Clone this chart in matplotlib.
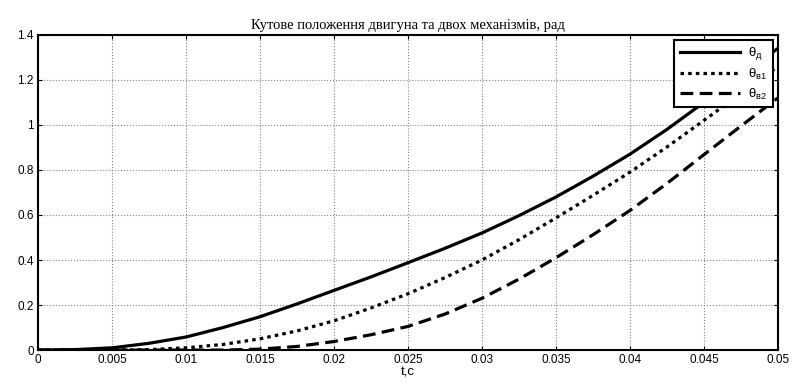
import numpy as np
import matplotlib.pyplot as plt

# time points, s
t = [0.0, 0.0025, 0.005, 0.0075, 0.01, 0.0125, 0.015, 0.0175, 0.02, 0.0225,
     0.025, 0.0275, 0.03, 0.0325, 0.035, 0.0375, 0.04, 0.0425, 0.045, 0.0475, 0.05]

# motor angle, rad
theta_d = [0.0, 0.002, 0.01, 0.03, 0.058, 0.10, 0.148, 0.205, 0.265, 0.325,
           0.388, 0.452, 0.52, 0.597, 0.68, 0.772, 0.87, 0.98, 1.10, 1.22, 1.34]

# first mechanism angle, rad
theta_v1 = [0.0, 0.0, 0.0, 0.002, 0.01, 0.025, 0.05, 0.085, 0.13, 0.187,
            0.25, 0.322, 0.40, 0.49, 0.587, 0.687, 0.79, 0.902, 1.02, 1.14, 1.26]

# second mechanism angle, rad
theta_v2 = [0.0, 0.0, 0.0, 0.0, 0.0, 0.0, 0.004, 0.016, 0.038, 0.068,
            0.105, 0.16, 0.23, 0.315, 0.41, 0.512, 0.62, 0.74, 0.868, 0.995, 1.12]

plt.rcParams['font.family'] = ['Liberation Sans', 'DejaVu Sans']

fig = plt.figure(figsize=(7.93, 3.83), dpi=100)
ax = fig.add_axes([0.048, 0.086, 0.933, 0.823])

ax.plot(t, theta_d, 'k-', linewidth=2.3, label='θ$_{\\mathregular{д}}$')
ax.plot(t, theta_v1, 'k', linestyle=(0, (1.1, 1.3)), linewidth=2.3,
        label='θ$_{\\mathregular{в1}}$')
ax.plot(t, theta_v2, 'k', linestyle=(0, (4, 2)), linewidth=2.3,
        label='θ$_{\\mathregular{в2}}$')

ax.set_xlim(0, 0.05)
ax.set_ylim(0, 1.4)
ax.set_xticks(np.arange(0, 0.0501, 0.005))
ax.set_xticklabels(['0', '0.005', '0.01', '0.015', '0.02', '0.025', '0.03',
                    '0.035', '0.04', '0.045', '0.05'])
ax.set_yticks(np.arange(0, 1.41, 0.2))
ax.set_yticklabels(['0', '0.2', '0.4', '0.6', '0.8', '1', '1.2', '1.4'])
ax.tick_params(direction='in', top=True, right=True, labelsize=8.5, length=3, pad=3)
ax.grid(True, color='gray', linestyle=':', linewidth=0.8)
for s in ax.spines.values():
    s.set_linewidth(1.5)

ax.set_title('Кутове положення двигуна та двох механізмів, рад',
             family='Liberation Serif', fontsize=10.5, pad=4)
ax.set_xlabel('t,c', fontsize=9.5, labelpad=0)

leg = ax.legend(loc='upper right', fontsize=9.5, fancybox=False, framealpha=1,
                edgecolor='black', handlelength=4.6, handletextpad=0.6,
                borderaxespad=0.4, labelspacing=0.35, borderpad=0.4)
leg.get_frame().set_linewidth(1.5)

fig.savefig('out.png', dpi=100)
